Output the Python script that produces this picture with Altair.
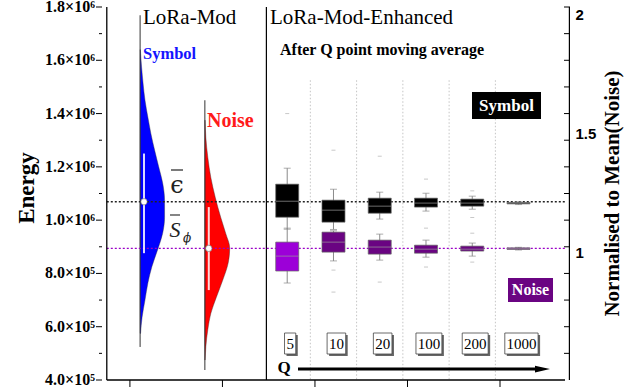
import altair as alt
import pandas as pd

# ---------------- data ----------------
E_MIN, E_MAX = 4.0e5, 1.8e6
X_MIN, X_MAX = 0.75, 5.7024
NOISE_MEAN = 8.94e5
SYMBOL_MEAN = 1.069e6

left_major = [400000, 600000, 800000, 1000000, 1200000, 1400000, 1600000, 1800000]
left_major_labels = ["4.0×10⁵", "6.0×10⁵", "8.0×10⁵", "1.0×10⁶", "1.2×10⁶",
                     "1.4×10⁶", "1.6×10⁶", "1.8×10⁶"]
left_minor = [500000, 700000, 900000, 1100000, 1300000, 1500000, 1700000]
right_tick_energy = [500000, 600000, 700000, 800000, 900000, 1000000, 1100000, 1200000,
                     1300000, 1400000, 1500000, 1600000, 1700000, 1800000]
right_values = [1, 1.5, 2]
right_labels = ["1", "1.5", "2"]
bottom_ticks = [1, 2, 3, 4, 5]

# violins (LoRa-Mod)
sym_v_energy = [1.64e6, 1.575e6, 1.515e6, 1.45e6, 1.385e6, 1.325e6, 1.26e6, 1.2e6, 1.14e6,
                1.075e6, 1.01e6, 9.5e5, 8.9e5, 8.25e5, 7.65e5, 7.0e5, 6.35e5, 5.75e5]
sym_v_density = [0.01, 0.06, 0.12, 0.2, 0.32, 0.44, 0.6, 0.76, 0.92,
                 1.0, 1.0, 0.92, 0.72, 0.48, 0.32, 0.2, 0.08, 0.02]
noi_v_energy = [1.375e6, 1.31e6, 1.235e6, 1.16e6, 1.085e6, 1.01e6, 9.5e5, 8.95e5,
                8.4e5, 7.75e5, 7.1e5, 6.5e5, 5.9e5, 5.25e5, 4.75e5]
noi_v_density = [0.01, 0.04, 0.12, 0.24, 0.42, 0.64, 0.84, 1.0,
                 0.94, 0.72, 0.46, 0.24, 0.12, 0.04, 0.01]
sym_range = [5.24e5, 1.769e6]
noi_range = [4.375e5, 1.45e6]
sym_band = [8.76e5, 1.25e6]
noi_band = [7.375e5, 1.049e6]
violin_pos = [1.11, 1.81]

# boxes (LoRa-Mod-Enhanced, after Q point moving average)
q_labels = ["5", "10", "20", "100", "200", "1000"]
q_pos = [2.7, 3.2, 3.7, 4.2, 4.7, 5.2]
sym_lw = [9.66e5, 9.65e5, 1.004e6, 1.034e6, 1.041e6, 1.0585e6]
sym_q1 = [1.011e6, 9.925e5, 1.026e6, 1.049e6, 1.0525e6, 1.061e6]
sym_med = [1.071e6, 1.0375e6, 1.0525e6, 1.064e6, 1.064e6, 1.064e6]
sym_q3 = [1.135e6, 1.075e6, 1.0825e6, 1.0825e6, 1.079e6, 1.0665e6]
sym_uw = [1.195e6, 1.116e6, 1.105e6, 1.101e6, 1.09e6, 1.069e6]
sym_out = [[1.40e6], [1.2625e6], [1.24e6], [1.154e6], [1.11e6, 1.01e6], []]
noi_lw = [7.64e5, 8.47e5, 8.5e5, 8.61e5, 8.65e5, 8.88e5]
noi_q1 = [8.09e5, 8.8e5, 8.725e5, 8.76e5, 8.84e5, 8.9e5]
noi_med = [8.65e5, 9.175e5, 8.99e5, 8.91e5, 8.91e5, 8.93e5]
noi_q3 = [9.175e5, 9.55e5, 9.25e5, 9.06e5, 9.025e5, 8.96e5]
noi_uw = [9.7e5, 9.6e5, 9.475e5, 9.25e5, 9.14e5, 8.98e5]
noi_out = [[], [8.125e5, 7.3e5], [7.675e5], [9.7e5, 8.24e5], [9.51e5, 8.425e5], []]
noise_colors = ["#9c00d8", "#6a0482", "#6a0482", "#6a0482", "#6a0482", "#6a0482"]

grid_x = [2.95, 3.45, 3.95, 4.45, 4.95]
grid_top = 1.525e6
divider_x = 2.475

# ---------------- layout / style ----------------
PAD_L, PAD_T, PAD_R, PAD_B = 92, 7, 71, 2
W, H = 641 - PAD_L - PAD_R, 388 - PAD_T - PAD_B      # 478 x 379
OX = 10                                               # left axis line, px inside the view
AXIS_H = 373                                          # bottom axis line, px from top
PX_PER_X = 94.5
PX_PER_E = (E_MAX - E_MIN) / AXIS_H
XV_MIN = X_MIN - OX / PX_PER_X
YV_MIN = E_MIN - (H - AXIS_H) * PX_PER_E
SERIF = "Liberation Serif"
SANS = "Liberation Sans"
VIOLIN_W = [25 / PX_PER_X, 25.4 / PX_PER_X]

xs = alt.Scale(domain=[XV_MIN, X_MAX], nice=False, zero=False)
ys = alt.Scale(domain=[YV_MIN, E_MAX], nice=False, zero=False)


def X(f):
    return alt.X(f, scale=xs, axis=None)


def Y(f):
    return alt.Y(f, scale=ys, axis=None)


one = pd.DataFrame({"k": [0]})
layers = []

# vertical dotted grid lines
gdf = pd.DataFrame({"x": grid_x, "top": grid_top, "bot": E_MIN})
layers.append(alt.Chart(gdf).mark_rule(color="#c4c4c4", strokeDash=[1.5, 2], strokeWidth=1)
              .encode(x=X("x:Q"), y=Y("top:Q"), y2="bot:Q"))

# divider line
ddf = pd.DataFrame({"x": [divider_x], "top": [E_MAX], "bot": [E_MIN]})
layers.append(alt.Chart(ddf).mark_rule(color="black", strokeWidth=1.2)
              .encode(x=X("x:Q"), y=Y("top:Q"), y2="bot:Q"))

# violins
for pos, en, de, w, col in [(violin_pos[0], sym_v_energy, sym_v_density, VIOLIN_W[0], "#0000ff"),
                            (violin_pos[1], noi_v_energy, noi_v_density, VIOLIN_W[1], "#ff0000")]:
    vdf = pd.DataFrame({"e": en, "x0": pos, "x1": [pos + d * w for d in de]})
    layers.append(alt.Chart(vdf).mark_area(orient="horizontal", color=col, stroke="#333",
                                           strokeWidth=0.4, interpolate="monotone")
                  .encode(y=Y("e:Q"), x=X("x0:Q"), x2="x1:Q"))

rdf = pd.DataFrame({"x": violin_pos, "lo": [sym_range[0], noi_range[0]], "hi": [sym_range[1], noi_range[1]]})
layers.append(alt.Chart(rdf).mark_rule(color="#333", strokeWidth=1)
              .encode(x=X("x:Q"), y=Y("lo:Q"), y2="hi:Q"))

# mean dotted lines
mdf = pd.DataFrame({"e": [SYMBOL_MEAN], "x0": [X_MIN], "x1": [X_MAX]})
layers.append(alt.Chart(mdf).mark_rule(color="#222", strokeDash=[2, 2], strokeWidth=1.3)
              .encode(y=Y("e:Q"), x=X("x0:Q"), x2="x1:Q"))
ndf = pd.DataFrame({"e": [NOISE_MEAN], "x0": [X_MIN], "x1": [X_MAX]})
layers.append(alt.Chart(ndf).mark_rule(color="#9a00c8", strokeDash=[2, 2], strokeWidth=1.3)
              .encode(y=Y("e:Q"), x=X("x0:Q"), x2="x1:Q"))

# white band and mean dot in violins
wx = [violin_pos[0] + 4 / PX_PER_X, violin_pos[1] + 4 / PX_PER_X]
bdf = pd.DataFrame({"x": wx, "lo": [sym_band[0], noi_band[0]], "hi": [sym_band[1], noi_band[1]],
                    "m": [SYMBOL_MEAN, NOISE_MEAN]})
layers.append(alt.Chart(bdf).mark_rule(color="white", strokeWidth=2, opacity=0.85)
              .encode(x=X("x:Q"), y=Y("lo:Q"), y2="hi:Q"))
layers.append(alt.Chart(bdf).mark_point(filled=True, color="white", stroke="#666", strokeWidth=0.6,
                                        size=40, opacity=1)
              .encode(x=X("x:Q"), y=Y("m:Q")))

# box plots
rows, outs = [], []
for i, p in enumerate(q_pos):
    rows.append(dict(x=p, lw=sym_lw[i], q1=sym_q1[i], med=sym_med[i], q3=sym_q3[i], uw=sym_uw[i], c="#000000"))
    rows.append(dict(x=p, lw=noi_lw[i], q1=noi_q1[i], med=noi_med[i], q3=noi_q3[i], uw=noi_uw[i], c=noise_colors[i]))
    for o in sym_out[i] + noi_out[i]:
        outs.append(dict(x=p, e=o))
box = pd.DataFrame(rows)
odf = pd.DataFrame(outs)
layers.append(alt.Chart(box).mark_rule(color="#8a8a8a", strokeWidth=1)
              .encode(x=X("x:Q"), y=Y("lw:Q"), y2="uw:Q"))
for f in ["lw", "uw"]:
    layers.append(alt.Chart(box).mark_tick(orient="horizontal", color="#8a8a8a", size=7, thickness=1)
                  .encode(x=X("x:Q"), y=Y(f + ":Q")))
layers.append(alt.Chart(box).mark_bar(width=23, stroke="#666", strokeWidth=0.7)
              .encode(x=X("x:Q"), y=Y("q1:Q"), y2="q3:Q", color=alt.Color("c:N", scale=None)))
layers.append(alt.Chart(box).mark_tick(orient="horizontal", color="#9a9a9a", size=23, thickness=1)
              .encode(x=X("x:Q"), y=Y("med:Q")))
layers.append(alt.Chart(odf).mark_tick(orient="horizontal", color="#b0b0b0", size=4, thickness=1)
              .encode(x=X("x:Q"), y=Y("e:Q")))

# Q label boxes
qdf = pd.DataFrame({"label": q_labels, "x": [p + 3 / PX_PER_X for p in q_pos]})
qdf["x1"] = qdf["x"] - (qdf["label"].str.len() * 7.5 + 4) / 2 / PX_PER_X
qdf["x2"] = qdf["x"] + (qdf["label"].str.len() * 7.5 + 4) / 2 / PX_PER_X
layers.append(alt.Chart(qdf).mark_rect(color="#666", xOffset=2, x2Offset=2, yOffset=2, y2Offset=2)
              .encode(x=X("x1:Q"), x2="x2:Q", y=alt.value(326), y2=alt.value(347)))
layers.append(alt.Chart(qdf).mark_rect(fill="white", stroke="#444", strokeWidth=0.8)
              .encode(x=X("x1:Q"), x2="x2:Q", y=alt.value(326), y2=alt.value(347)))
layers.append(alt.Chart(qdf).mark_text(font=SERIF, fontSize=15, color="black", baseline="middle")
              .encode(x=X("x:Q"), y=alt.value(337), text="label:N"))

# ---- axes drawn from their own data ----
lline = pd.DataFrame({"x": [X_MIN], "lo": [E_MIN], "hi": [E_MAX]})
layers.append(alt.Chart(lline).mark_rule(color="black", strokeWidth=1.3)
              .encode(x=X("x:Q"), y=Y("lo:Q"), y2="hi:Q"))
bline = pd.DataFrame({"e": [E_MIN], "x0": [X_MIN], "x1": [X_MAX]})
layers.append(alt.Chart(bline).mark_rule(color="black", strokeWidth=1.3)
              .encode(y=Y("e:Q"), x=X("x0:Q"), x2="x1:Q"))
layers.append(alt.Chart(one).mark_rule(color="black", strokeWidth=1.2)
              .encode(x=alt.value(W - 0.6), y=alt.value(0), y2=alt.value(AXIS_H)))

maj = pd.DataFrame({"e": left_major, "label": left_major_labels})
layers.append(alt.Chart(maj).mark_rule(color="black", strokeWidth=1)
              .encode(y=Y("e:Q"), x=alt.value(OX - 6), x2=alt.value(OX)))
layers.append(alt.Chart(pd.DataFrame({"e": left_minor})).mark_rule(color="black", strokeWidth=1)
              .encode(y=Y("e:Q"), x=alt.value(OX - 3), x2=alt.value(OX)))
layers.append(alt.Chart(maj).mark_text(align="right", baseline="middle", font=SERIF, fontSize=16,
                                       fontWeight="bold", color="black")
              .encode(y=Y("e:Q"), x=alt.value(OX - 7), text="label:N"))
bt = pd.DataFrame({"x": bottom_ticks, "e": E_MIN})
layers.append(alt.Chart(bt).mark_rule(color="black", strokeWidth=1)
              .encode(x=X("x:Q"), y=Y("e:Q"), y2=alt.value(AXIS_H + 7)))
layers.append(alt.Chart(pd.DataFrame({"e": right_tick_energy})).mark_rule(color="black", strokeWidth=1)
              .encode(y=Y("e:Q"), x=alt.value(W - 6), x2=alt.value(W)))


def txt(text, x, y, **kw):
    return alt.Chart(one).mark_text(baseline="middle", **kw).encode(
        x=alt.value(x + OX), y=alt.value(y), text=alt.value(text))


def rect(x1, x2, y1, y2, **kw):
    return alt.Chart(one).mark_rect(**kw).encode(
        x=alt.value(x1 + OX), x2=alt.value(x2 + OX), y=alt.value(y1), y2=alt.value(y2))


def hline(x1, x2, y, **kw):
    return alt.Chart(one).mark_rule(**kw).encode(
        x=alt.value(x1 + OX), x2=alt.value(x2 + OX), y=alt.value(y))


layers += [
    txt("Energy", -75, 181, align="center", angle=270, font=SERIF, fontSize=23,
        fontWeight="bold", color="black"),
    txt("LoRa-Mod", 41, 11, align="left", font=SERIF, fontSize=21, color="black"),
    txt("LoRa-Mod-Enhanced", 168, 11, align="left", font=SERIF, fontSize=21, color="black"),
    txt("After Q point moving average", 178, 43, align="left", font=SERIF, fontSize=16,
        fontWeight="bold", color="black"),
    txt("Symbol", 41, 47, align="left", font=SERIF, fontSize=16.5, fontWeight="bold", color="#1414ff"),
    txt("Noise", 105, 114, align="left", font=SERIF, fontSize=20, fontWeight="bold", color="#ff1a1a"),
    rect(370, 439, 85, 112, color="black"),
    txt("Symbol", 404.5, 99, align="center", font=SERIF, fontSize=17, fontWeight="bold", color="white"),
    rect(406, 451, 271, 295, color="#6a0482"),
    txt("Noise", 428.5, 283, align="center", font=SERIF, fontSize=16, fontWeight="bold", color="white"),
    txt("ϵ", 75, 179, align="center", font="DejaVu Serif", fontSize=24, color="#222"),
    hline(69, 81, 163, color="#222", strokeWidth=1.2),
    txt("S", 73, 223, align="center", font=SERIF, fontSize=22, fontStyle="italic", color="#222"),
    hline(68, 78, 208, color="#222", strokeWidth=1.1),
    txt("ϕ", 85, 231, align="center", font="DejaVu Serif", fontSize=12, fontStyle="italic", color="#222"),
    txt("Q", 182, 361, align="center", font=SERIF, fontSize=17, fontWeight="bold", color="black"),
    hline(196, 434, 362, color="black", strokeWidth=3),
    alt.Chart(one).mark_point(shape="M-1,-0.45L1,0L-1,0.45Z", filled=True, color="black",
                              size=225, opacity=1)
    .encode(x=alt.value(440.5 + OX), y=alt.value(362)),
]

right_expr = " : ".join(f"datum.value == {v} ? '{l}'" for v, l in zip(right_values, right_labels)) + " : ''"
right_axis = alt.Axis(
    orient="right", values=right_values, labelExpr=right_expr, tickSize=0, labelPadding=5,
    labelOffset=4, labelFont=SANS, labelFontWeight="bold", labelFontSize=15, labelColor="black",
    domain=False, grid=False, title="Normalised to Mean(Noise)",
    titleFont=SERIF, titleFontWeight="bold", titleFontSize=21, titleColor="black",
    titleAngle=270, titleX=42, titleY=186, titleBaseline="middle", titleAlign="center",
)
right = alt.Chart(pd.DataFrame({"v": right_values})).mark_point(opacity=0).encode(
    y=alt.Y("v:Q", scale=alt.Scale(domain=[YV_MIN / NOISE_MEAN, E_MAX / NOISE_MEAN], nice=False, zero=False),
            axis=right_axis))
layers.append(right)

chart = (alt.layer(*layers)
         .resolve_scale(y="independent")
         .properties(width=W, height=H, autosize=alt.AutoSizeParams(type="none"),
                     padding={"left": PAD_L, "top": PAD_T, "right": PAD_R, "bottom": PAD_B},
                     background="white")
         .configure_view(stroke=None))

chart.save("out.html", embed_options={"renderer": "svg", "actions": False})
